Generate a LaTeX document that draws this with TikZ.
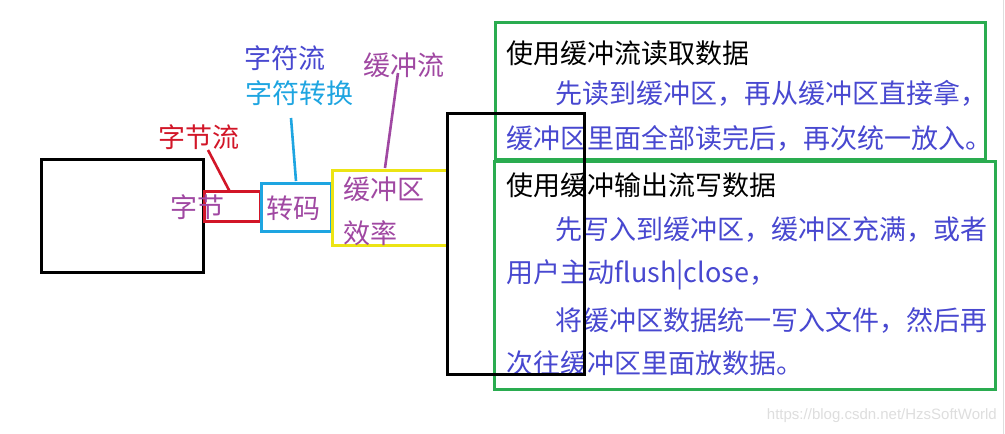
\documentclass[tikz,border=0pt]{standalone}
\usepackage{fontspec}
\setmainfont{Noto Sans CJK SC}
\newfontfamily\wmfont{Liberation Sans}
\definecolor{cred}{RGB}{210,22,40}
\definecolor{ccyan}{RGB}{30,165,225}
\definecolor{cyellow}{RGB}{236,228,20}
\definecolor{cpurple}{RGB}{160,72,162}
\definecolor{cblue}{RGB}{72,72,208}
\definecolor{cgreen}{RGB}{42,172,80}
\definecolor{cwm}{RGB}{222,222,222}
\begin{document}
\begin{tikzpicture}[x=1pt,y=-1pt,
  frame/.style={line width=3pt, inner sep=0pt},
  txt/.style={inner sep=0pt, font=\fontsize{27pt}{27pt}\selectfont},
  link/.style={line width=2.6pt}]
\useasboundingbox (0,0) rectangle (1005,434);
\fill[white] (0,0) rectangle (1005,434);
% faint screenshot edge
\draw[cwm, line width=1pt] (1003,0) -- (1003,434);

% green text boxes
\node[frame, draw=cgreen, minimum width=490pt, minimum height=137pt] (g1) at (740,90.5) {};
\node[frame, draw=cgreen, minimum width=501pt, minimum height=228pt] (g2) at (744.5,275) {};

% box 1 text
\node[txt, anchor=west, text=black] (t11) at (506.5,53) {使用缓冲流读取数据};
\node[txt, anchor=west, text=cblue] (t12) at (555.5,93) {先读到缓冲区，再从缓冲区直接拿，};
\node[txt, anchor=west, text=cblue] (t13) at (506.5,138) {缓冲区里面全部读完后，再次统一放入。};
% box 2 text
\node[txt, anchor=west, text=black] (t21) at (506.5,185) {使用缓冲输出流写数据};
\node[txt, anchor=west, text=cblue] (t22) at (555.5,230) {先写入到缓冲区，缓冲区充满，或者};
\node[txt, anchor=west, text=cblue] (t23) at (506.5,275) {用户主动flush|close，};
\node[txt, anchor=west, text=cblue] (t24) at (555.5,320) {将缓冲区数据统一写入文件，然后再};
\node[txt, anchor=west, text=cblue] (t25) at (506.5,363) {次往缓冲区里面放数据。};

% left source box
\node[frame, draw=black, minimum width=162pt, minimum height=113pt] (src) at (122,215.5) {};
% red byte stream box
\node[frame, draw=cred, minimum width=56pt, minimum height=30pt] (rb) at (232,206) {};
% cyan conversion box
\node[frame, draw=ccyan, minimum width=70pt, minimum height=48pt] (cb) at (296,207) {};
% yellow buffer box
\node[frame, draw=cyellow, minimum width=115pt, minimum height=75pt] (yb) at (389.5,207.5) {};

% labels in boxes
\node[txt, text=cpurple] (lzj) at (197,207) {字节};
\node[txt, text=cpurple] (lzm) at (293.5,208) {转码};
\node[txt, text=cpurple, anchor=west] (lhcq) at (343.5,189) {缓冲区};
\node[txt, text=cpurple, anchor=west] (lxl) at (343.5,233) {效率};

% labels above
\node[txt, text=cred] (lzjl) at (199,137) {字节流};
\node[txt, text=cblue] (lzfl) at (285,58) {字符流};
\node[txt, text=ccyan] (lzfzh) at (299.5,93) {字符转换};
\node[txt, text=cpurple] (lhcl) at (404,65) {缓冲流};

% connectors
\coordinate (r0) at (208,150);
\coordinate (r1) at (230,192);
\draw[link, cred] (r0) -- (r1);
\coordinate (c0) at (291,118);
\coordinate (c1) at (296,181);
\draw[link, ccyan] (c0) -- (c1);
\coordinate (p0) at (398,73);
\coordinate (p1) at (385,168);
\draw[link, cpurple] (p0) -- (p1);

% big black target box
\node[frame, draw=black, minimum width=137pt, minimum height=261pt] (dst) at (515.5,243.5) {};

% watermark
\node[inner sep=0pt, anchor=east, text=cwm, font=\wmfont\fontsize{15pt}{15pt}\selectfont] (wm) at (997,416) {https://blog.csdn.net/HzsSoftWorld};
\end{tikzpicture}
\end{document}
